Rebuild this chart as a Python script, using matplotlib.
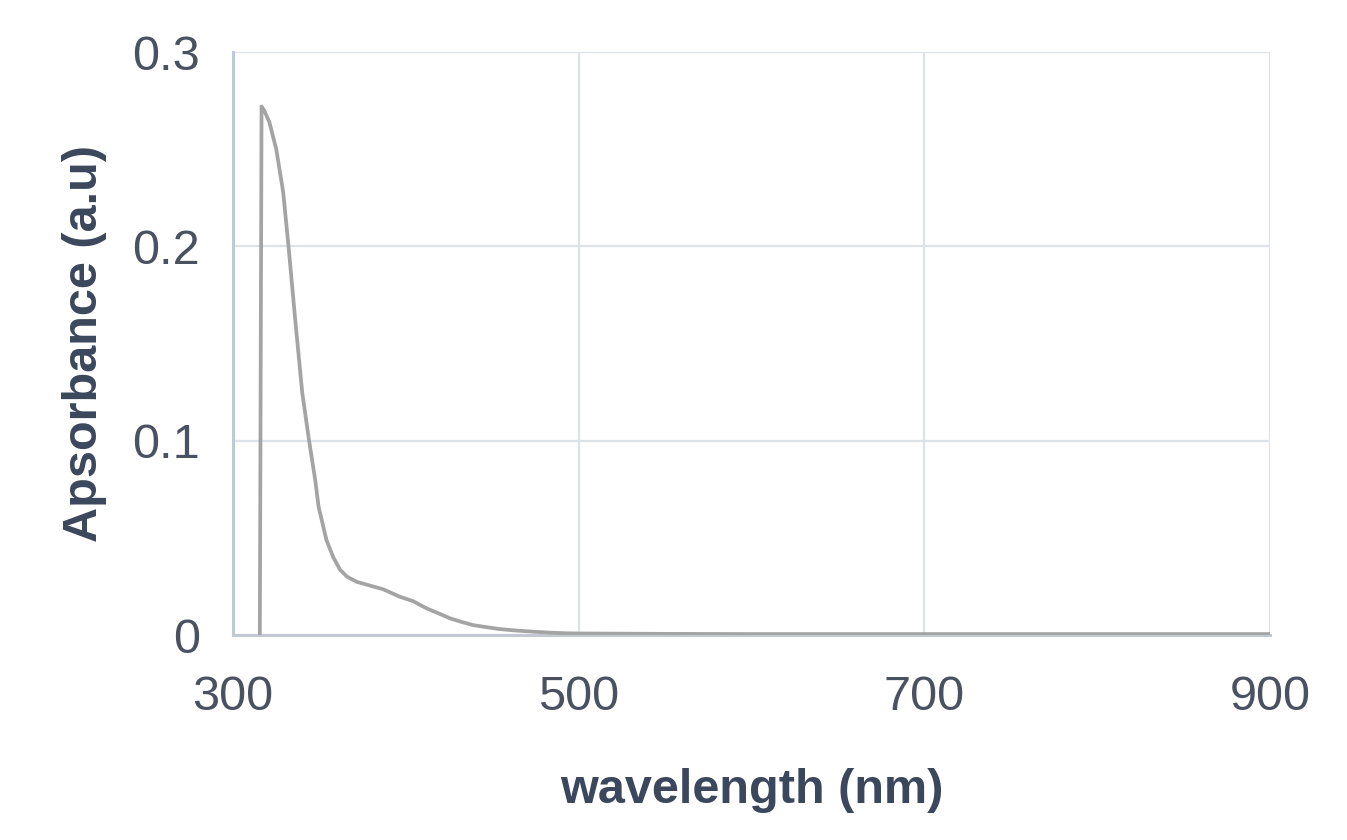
import matplotlib
matplotlib.use("Agg")
import matplotlib.pyplot as plt

# absorbance spectrum
wavelength = [315.5, 316.5, 318, 321, 325, 329, 332, 336, 340, 344, 347.5, 349.5,
              354, 358, 362, 366, 371.5, 381, 387, 396.5, 404, 412, 418, 425.5,
              432, 439, 447, 454, 464, 474, 484, 493, 500, 550, 600, 700, 800, 900]
absorbance = [0.0, 0.272, 0.270, 0.264, 0.250, 0.228, 0.201, 0.162, 0.125, 0.100,
              0.080, 0.066, 0.049, 0.040, 0.0335, 0.030, 0.0274, 0.025, 0.0235,
              0.0197, 0.0175, 0.0137, 0.0115, 0.0086, 0.0068, 0.0051, 0.0040,
              0.0031, 0.0023, 0.0017, 0.0012, 0.0009, 0.0008, 0.0006, 0.0005,
              0.0005, 0.0005, 0.0005]

x_ticks = [300, 500, 700, 900]
y_ticks = [0, 0.1, 0.2, 0.3]
y_tick_labels = ["0", "0.1", "0.2", "0.3"]

plt.rcParams['font.family'] = ['Liberation Sans', 'DejaVu Sans']

fig = plt.figure(figsize=(13.47, 8.4), dpi=100)
ax = fig.add_axes([0.173, 0.244, 0.770, 0.694])

ax.plot(wavelength, absorbance, color='#a4a4a4', linewidth=2.7,
        solid_joinstyle='round', zorder=3)

ax.set_xlim(300, 900)
ax.set_ylim(0, 0.3)
ax.set_xticks(x_ticks)
ax.set_yticks(y_ticks)
ax.set_yticklabels(y_tick_labels)

ax.grid(True, color='#dde1e8', linewidth=1.6)
ax.set_axisbelow(True)
for side in ['top', 'right']:
    ax.spines[side].set_visible(False)
for side in ['left', 'bottom']:
    ax.spines[side].set_color('#c3c9d4')
    ax.spines[side].set_linewidth(2.2)

ax.tick_params(axis='both', length=0, labelsize=35, labelcolor='#4a5160')
ax.tick_params(axis='x', pad=29)
ax.tick_params(axis='y', pad=24)

ax.set_xlabel('wavelength (nm)', fontsize=35, fontweight='bold', color='#3a475c', va='baseline')
ax.xaxis.set_label_coords(0.5, -0.288)
ax.set_ylabel('Apsorbance (a.u)', fontsize=35, fontweight='bold', color='#3a475c', va='center')
ax.yaxis.set_label_coords(-0.143, 0.5)

fig.savefig('out.png', dpi=100)
